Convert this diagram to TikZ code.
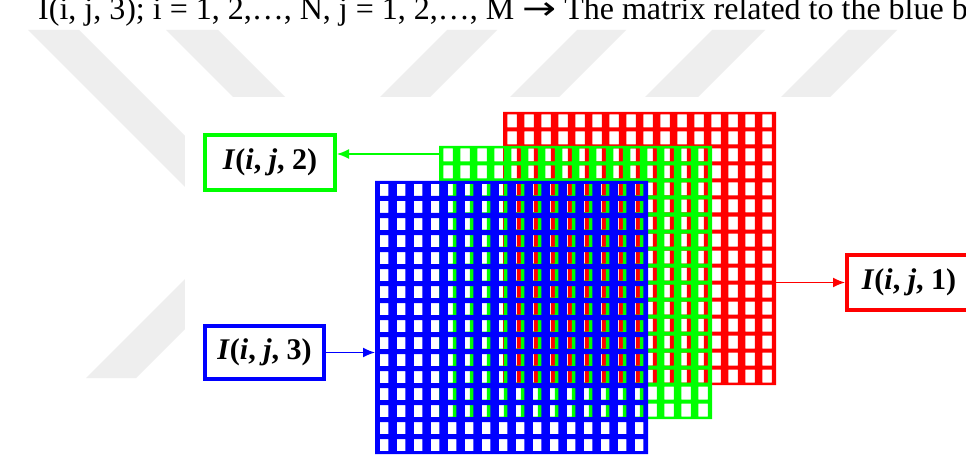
\documentclass[tikz,border=0pt]{standalone}
\usepackage{fontspec}
\setmainfont{Liberation Serif}
\newfontfamily\arrowfont{DejaVu Sans}
\usetikzlibrary{arrows.meta}
\definecolor{wm}{HTML}{EEEEEE}
\definecolor{pr}{HTML}{FF0000}
\definecolor{pg}{HTML}{00FF00}
\definecolor{pb}{HTML}{0000FF}
% #1,#2 origin, #3 colour, #4 cell width, #5 cell height
\newcommand{\gridsq}[5]{%
  \fill[#3, even odd rule] (#1,#2) rectangle +(273,273)
    foreach \i in {0,...,15} { foreach \j in {0,...,15} {
      (#1+9-#4/2+17*\i, #2+9-#5/2+17*\j) rectangle +(#4,#5) } };
}
\begin{document}
\begin{tikzpicture}[x=1pt,y=-1pt,
  lab/.style={line width=4pt, fill=white, inner sep=0pt, text=black,
    font=\fontsize{30}{36}\selectfont\bfseries},
  conn/.style={line width=1.5pt, -{Latex[length=12pt,width=10pt]}}]
\useasboundingbox (0,0) rectangle (966,457);
\fill[white] (0,0) rectangle (966,457);
% watermark
\begin{scope}
\clip (0,0) rectangle (966,457);
\fill[wm] (28,30) -- (79,30) -- (300,251) -- (249,251) -- cycle;
\fill[wm] (166,30) -- (218,30) -- (285,97) -- (233,97) -- cycle;
\fill[wm] (447,30) -- (497,30) -- (430,97) -- (380,97) -- cycle;
\fill[wm] (577,30) -- (626,30) -- (559,97) -- (510,97) -- cycle;
\fill[wm] (712,30) -- (765,30) -- (698,97) -- (645,97) -- cycle;
\fill[wm] (848,30) -- (897,30) -- (830,97) -- (781,97) -- cycle;
\fill[wm] (86,378) -- (136,378) -- (290,224) -- (240,224) -- cycle;
\fill[white] (185,97) rectangle (966,457);
\end{scope}
% top text
\node[anchor=base west, inner sep=0pt, font=\fontsize{32}{38}\selectfont] (top) at (38,20)
  {I(i, j, 3); i = 1, 2,…, N, j = 1, 2,…, M \scalebox{1.27}[1]{\arrowfont →} The matrix related to the blue band};
% grids
\coordinate (R) at (503,112);
\coordinate (G) at (439,146);
\coordinate (B) at (375,181);
\gridsq{503}{112}{pr}{9.5}{13}
\gridsq{439}{146}{pg}{9.5}{13}
\gridsq{375}{181}{pb}{8.5}{12}
% labels
\node[lab, draw=pg, minimum width=130pt, minimum height=55pt] (L2) at (270,162.5)
  {\textit{I}(\textit{i}, \textit{j}, 2)};
\node[lab, draw=pb, minimum width=119pt, minimum height=53pt] (L3) at (264.5,352.5)
  {\textit{I}(\textit{i}, \textit{j}, 3)};
\node[lab, draw=pr, minimum width=124pt, minimum height=55pt, anchor=west] (L1) at (845,282.5)
  {\textit{I}(\textit{i}, \textit{j}, 1)};
% connectors
\coordinate (g2) at (439,154);
\coordinate (b3) at (375,352.5);
\coordinate (r1) at (776,282.5);
\draw[conn, pg] (g2) -- (g2 -| L2.east);
\draw[conn, pb] (L3.east) -- (b3);
\draw[conn, pr] (r1) -- (L1.west);
\end{tikzpicture}
\end{document}
